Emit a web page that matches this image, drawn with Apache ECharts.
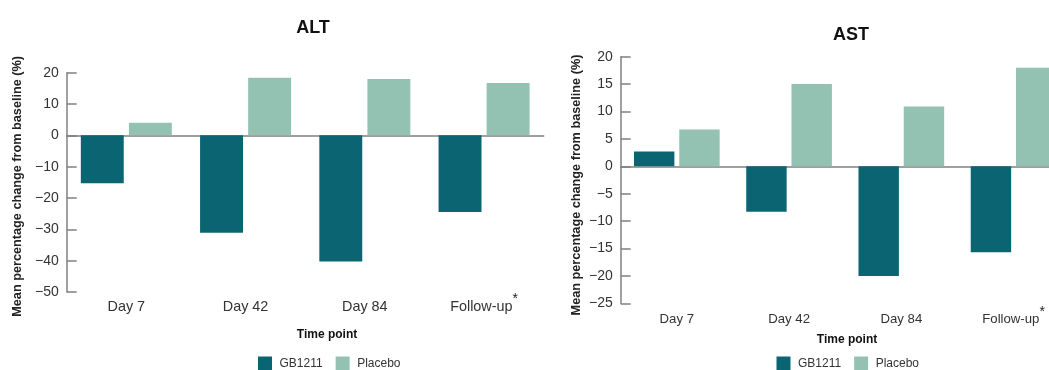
<!DOCTYPE html>
<html><head><meta charset="utf-8">
<script src="https://cdn.jsdelivr.net/npm/echarts@6/dist/echarts.min.js"></script>
<style>html,body{margin:0;padding:0;background:#fff}#c{width:1049px;height:370px}</style>
</head><body><div id="c"></div>
<script>
// ---- data ----
const categories = ['Day 7', 'Day 42', 'Day 84', 'Follow-up'];
const footnoted = ['Follow-up'];
const seriesNames = ['GB1211', 'Placebo'];
const altGB1211 = [-15.3, -31.1, -40.3, -24.5];
const altPlacebo = [4.0, 18.4, 18.0, 16.7];
const astGB1211 = [2.7, -8.3, -20.0, -15.7];
const astPlacebo = [6.7, 15.0, 10.9, 18.0];
const altRange = [-50, 20, 10];
const astRange = [-25, 20, 5];
const panelTitles = ['ALT', 'AST'];
const xAxisTitle = 'Time point';
const yAxisTitle = 'Mean percentage change from baseline (%)';

// ---- style ----
const FONT = 'Liberation Sans, Arial, sans-serif';
const DARK = '#0b6472', LIGHT = '#93c2b3';
const AXIS = '#808080', TXT = '#333';

function xLabelFmt(v) {
  return '{a|' + v + '}' + (footnoted.indexOf(v) >= 0 ? '{s|*}' : '');
}
function yLabelFmt(v) { return String(v).replace('-', '\u2212'); }

function labelAxis(grid, fs, lh, margin, raise) {
  return {
    type: 'category', gridIndex: grid, data: categories, position: 'bottom',
    axisLine: { show: false, onZero: false }, axisTick: { show: false },
    axisLabel: {
      margin: margin, formatter: xLabelFmt, interval: 0, hideOverlap: false,
      rich: {
        a: { fontFamily: FONT, fontSize: fs, color: TXT, lineHeight: lh },
        s: { fontFamily: FONT, fontSize: 14, color: '#222', padding: [0, 0, raise, 0] }
      }
    }
  };
}
function zeroAxis(grid) {
  return {
    type: 'category', gridIndex: grid, data: categories, position: 'top',
    axisLine: { show: true, onZero: true, lineStyle: { color: AXIS, width: 1.5 } },
    axisTick: { show: false }, axisLabel: { show: false }
  };
}
function valAxis(grid, r, gap, shift) {
  return {
    type: 'value', gridIndex: grid, min: r[0], max: r[1], interval: r[2],
    name: yAxisTitle, nameLocation: 'middle', nameGap: gap,
    nameTextStyle: { fontFamily: FONT, fontSize: 12.7, fontWeight: 'bold', color: '#222', padding: [0, shift, 0, 0] },
    axisLine: { show: true, lineStyle: { color: AXIS, width: 1.5 } },
    axisTick: { show: true, inside: true, length: 10, lineStyle: { color: AXIS, width: 1.5 } },
    splitLine: { show: false },
    axisLabel: { fontFamily: FONT, fontSize: 14, color: TXT, margin: 8, formatter: yLabelFmt }
  };
}
function bar(name, data, xi, yi, color) {
  return {
    type: 'bar', name: name, data: data, xAxisIndex: xi, yAxisIndex: yi,
    barWidth: '36%', barGap: '12%', itemStyle: { color: color }, silent: true
  };
}
function legend(left) {
  return {
    left: left, top: 356.5, orient: 'horizontal', data: seriesNames, icon: 'rect',
    itemWidth: 14, itemHeight: 14, itemGap: 13, padding: 0,
    textStyle: { fontFamily: FONT, fontSize: 12, color: TXT, padding: [0, 0, 0, 2.5] }
  };
}
function ttl(text, x, y, fs) {
  return { text: text, left: x, top: y, textAlign: 'center', padding: 0,
    textStyle: { fontFamily: FONT, fontSize: fs, fontWeight: 'bold', color: '#111' } };
}

const chart = echarts.init(document.getElementById('c'), null, { renderer: 'canvas' });
chart.setOption({
  backgroundColor: '#fff',
  animation: false,
  title: [
    ttl(panelTitles[0], 313, 19, 18),
    ttl(panelTitles[1], 851, 26, 18),
    ttl(xAxisTitle, 327, 329, 12),
    ttl(xAxisTitle, 847, 333.5, 12)
  ],
  legend: [legend(258), legend(776.5)],
  grid: [
    { left: 66.7, top: 72.7, width: 477, height: 219.3, containLabel: false, outerBoundsMode: 'none' },
    { left: 620.7, top: 56.7, width: 449, height: 246.6, containLabel: false, outerBoundsMode: 'none' }
  ],
  xAxis: [labelAxis(0, 14.4, 34, -2, 15), zeroAxis(0), labelAxis(1, 13.2, 34, -1, 15), zeroAxis(1)],
  yAxis: [valAxis(0, altRange, 43, 8), valAxis(1, astRange, 38, 10)],
  series: [
    bar(seriesNames[0], altGB1211, 0, 0, DARK),
    bar(seriesNames[1], altPlacebo, 0, 0, LIGHT),
    bar(seriesNames[0], astGB1211, 2, 1, DARK),
    bar(seriesNames[1], astPlacebo, 2, 1, LIGHT)
  ]
});
</script></body></html>
